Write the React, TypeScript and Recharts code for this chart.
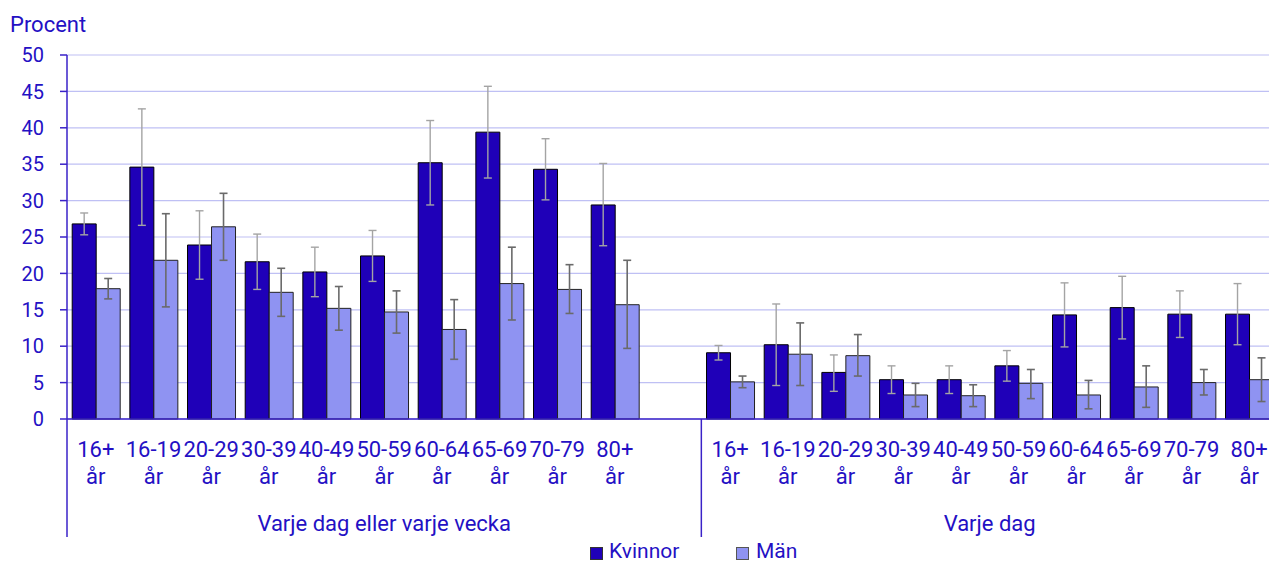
import React from 'react';
import { BarChart, Bar, XAxis, YAxis, CartesianGrid, ErrorBar, Legend } from 'recharts';

// age groups shown under each bar pair (second line is always "år")
const AGES = ['16+', '16-19', '20-29', '30-39', '40-49', '50-59', '60-64', '65-69', '70-79', '80+'];
const GROUPS = ['Varje dag eller varje vecka', 'Varje dag'];
const Y_TICKS = [0, 5, 10, 15, 20, 25, 30, 35, 40, 45, 50];

// Varje dag eller varje vecka
const womenWeekly = [26.8, 34.6, 23.9, 21.6, 20.2, 22.4, 35.2, 39.4, 34.3, 29.4];
const womenWeeklyLow = [25.3, 26.6, 19.2, 17.8, 16.8, 18.9, 29.4, 33.1, 30.1, 23.8];
const womenWeeklyHigh = [28.3, 42.6, 28.6, 25.4, 23.6, 25.9, 41.0, 45.7, 38.5, 35.1];
const menWeekly = [17.9, 21.8, 26.4, 17.4, 15.2, 14.7, 12.3, 18.6, 17.8, 15.7];
const menWeeklyLow = [16.5, 15.4, 21.8, 14.1, 12.2, 11.8, 8.2, 13.6, 14.5, 9.7];
const menWeeklyHigh = [19.3, 28.2, 31.0, 20.7, 18.2, 17.6, 16.4, 23.6, 21.2, 21.8];

// Varje dag
const womenDaily = [9.1, 10.2, 6.4, 5.4, 5.4, 7.3, 14.3, 15.3, 14.4, 14.4];
const womenDailyLow = [8.1, 4.6, 3.8, 3.5, 3.5, 5.2, 9.9, 11.0, 11.2, 10.2];
const womenDailyHigh = [10.1, 15.8, 8.8, 7.3, 7.3, 9.4, 18.7, 19.6, 17.6, 18.6];
const menDaily = [5.1, 8.9, 8.7, 3.3, 3.2, 4.9, 3.3, 4.4, 5.0, 5.4];
const menDailyLow = [4.3, 4.6, 5.9, 1.7, 1.7, 2.8, 1.4, 1.6, 3.3, 2.4];
const menDailyHigh = [5.9, 13.2, 11.6, 4.9, 4.7, 6.8, 5.3, 7.3, 6.8, 8.4];

const WOMEN = '#1f00b8';
const MEN = '#8f93f2';
const TEXT = '#2410c4';
const AXIS = '#3a22c8';
const FONT = 'Roboto, sans-serif';

const CHART_W = 1278;
const CHART_H = 562;
const Y_W = 67;
const TOP = 55;
const LEGEND_H = 24;
const X_H = 119;
const AXIS_Y = CHART_H - LEGEND_H - X_H;
const N_CAT = 21;
const BAND = (CHART_W - Y_W) / N_CAT;

const rowsFor = (group: number, w: number[], wl: number[], wh: number[], m: number[], ml: number[], mh: number[]) =>
    AGES.map((age, i) => ({
        key: `${group}-${age}`,
        age,
        group,
        women: w[i],
        womenErr: [w[i] - wl[i], wh[i] - w[i]],
        men: m[i],
        menErr: [m[i] - ml[i], mh[i] - m[i]],
    }));

// group 1 has an empty slot at its end, like the original
const data: any[] = [
    ...rowsFor(0, womenWeekly, womenWeeklyLow, womenWeeklyHigh, menWeekly, menWeeklyLow, menWeeklyHigh),
    { key: 'gap', age: '', group: 0, women: null, womenErr: null, men: null, menErr: null },
    ...rowsFor(1, womenDaily, womenDailyLow, womenDailyHigh, menDaily, menDailyLow, menDailyHigh),
];

const groupStart = GROUPS.map((_, g) => data.findIndex((d) => d.group === g));
const groupSize = GROUPS.map((_, g) => data.filter((d) => d.group === g).length);

const AgeTick = (props: any) => {
    const { x, index } = props;
    const row = data[index];
    const g = groupStart.indexOf(index);
    return (
        <g>
            {row.age && (
                <>
                    <text x={x} y={AXIS_Y + 38} textAnchor="middle" fill={TEXT} fontSize={22} fontFamily={FONT}>
                        {row.age}
                    </text>
                    <text x={x} y={AXIS_Y + 65} textAnchor="middle" fill={TEXT} fontSize={22} fontFamily={FONT}>
                        år
                    </text>
                </>
            )}
            {g >= 0 && (
                <>
                    <line x1={x - BAND / 2} x2={x - BAND / 2} y1={AXIS_Y} y2={AXIS_Y + 118} stroke={AXIS} strokeWidth={1.5} />
                    <text
                        x={x + ((groupSize[g] - 1) / 2) * BAND}
                        y={AXIS_Y + 112}
                        textAnchor="middle"
                        fill={TEXT}
                        fontSize={22}
                        fontFamily={FONT}
                    >
                        {GROUPS[g]}
                    </text>
                </>
            )}
        </g>
    );
};

const LegendContent = () => (
    <svg width={CHART_W} height={LEGEND_H} style={{ display: 'block', overflow: 'visible' }}>
        <rect x={590.5} y={9.5} width={12} height={12} fill={WOMEN} stroke="#333" />
        <text x={609} y={20} fill={TEXT} fontSize={21} fontFamily={FONT}>Kvinnor</text>
        <rect x={736.5} y={9.5} width={12} height={12} fill={MEN} stroke="#555" />
        <text x={756} y={20} fill={TEXT} fontSize={21} fontFamily={FONT}>Män</text>
    </svg>
);

export default function App() {
    return (
        <div style={{ position: 'absolute', left: 0, top: 0, width: 1269, height: 562, overflow: 'hidden', background: '#fff' }}>
            <BarChart
                width={CHART_W}
                height={CHART_H}
                data={data}
                margin={{ top: TOP, right: 0, left: 0, bottom: 0 }}
                barGap={0}
                barCategoryGap="9%"
            >
                <CartesianGrid vertical={false} stroke="#bfc0f4" strokeWidth={1.2} />
                <XAxis
                    dataKey="key"
                    interval={0}
                    height={X_H}
                    tickLine={false}
                    axisLine={{ stroke: AXIS, strokeWidth: 1.5 }}
                    tick={<AgeTick />}
                />
                <YAxis
                    width={Y_W}
                    domain={[0, 50]}
                    ticks={Y_TICKS}
                    interval={0}
                    tickSize={7}
                    tickMargin={16}
                    axisLine={{ stroke: AXIS, strokeWidth: 1.5 }}
                    tickLine={{ stroke: AXIS, strokeWidth: 1.5 }}
                    tick={{ fill: TEXT, fontSize: 20, fontFamily: FONT }}
                    label={{
                        content: () => (
                            <text x={10} y={32} fill={TEXT} fontSize={22} fontFamily={FONT}>Procent</text>
                        ),
                    }}
                />
                <Legend verticalAlign="bottom" content={<LegendContent />} wrapperStyle={{ left: 0, bottom: 0, width: CHART_W, height: LEGEND_H }} />
                <Bar dataKey="women" name="Kvinnor" fill={WOMEN} stroke="#000" strokeWidth={1} isAnimationActive={false}>
                    <ErrorBar dataKey="womenErr" direction="y" width={4} stroke="#a4a4a4" strokeWidth={1.4} />
                </Bar>
                <Bar dataKey="men" name="Män" fill={MEN} stroke="#222" strokeWidth={1} isAnimationActive={false}>
                    <ErrorBar dataKey="menErr" direction="y" width={4} stroke="#6a6a6a" strokeWidth={1.6} />
                </Bar>
            </BarChart>
        </div>
    );
}
